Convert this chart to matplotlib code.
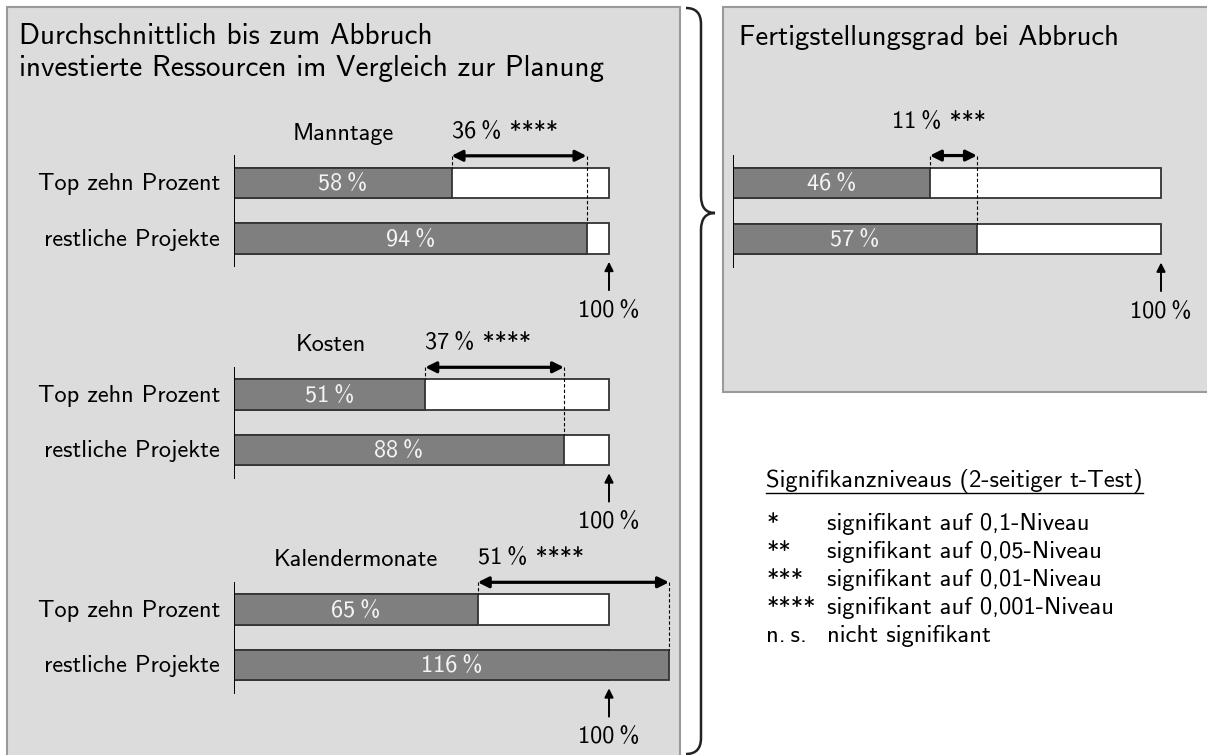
import numpy as np
import matplotlib
matplotlib.use("Agg")
import matplotlib.pyplot as plt
from matplotlib.patches import Rectangle, PathPatch
from matplotlib.path import Path
from matplotlib.lines import Line2D

plt.rcParams['font.family'] = ['cmss10', 'DejaVu Sans']
plt.rcParams['axes.unicode_minus'] = False

# Data
row_labels = ["Top zehn Prozent", "restliche Projekte"]
left_groups = ["Manntage", "Kosten", "Kalendermonate"]
top_vals = [58, 51, 65]
rest_vals = [94, 88, 116]
diff_vals = [36, 37, 51]
diff_sig = ["****", "****", "****"]

right_title = "Fertigstellungsgrad bei Abbruch"
right_top = 46
right_rest = 57
right_diff = 11
right_sig = "***"

sig_symbols = ["*", "**", "***", "****", "n.\u2009s."]
sig_texts = ["signifikant auf 0,1-Niveau", "signifikant auf 0,05-Niveau",
             "signifikant auf 0,01-Niveau", "signifikant auf 0,001-Niveau",
             "nicht signifikant"]

W, H = 1207, 755
BG = '#dcdcdc'
DARK = '#7f7f7f'
EDGE = '#333333'
FS = 17.5
TS = '\u2009'  # thin space before the percent sign

fig = plt.figure(figsize=(W / 100, H / 100), dpi=100)
fig.patch.set_facecolor('white')


def fx(x):
    return x / W


def fy(y):
    return 1 - y / H


# panels
fig.patches.append(Rectangle((fx(7), fy(770)), (680 - 7) / W, (770 - 7) / H,
                             transform=fig.transFigure, facecolor=BG,
                             edgecolor='#9a9a9a', lw=1.5, zorder=-2))
fig.patches.append(Rectangle((fx(723), fy(392)), (1220 - 723) / W, (392 - 7) / H,
                             transform=fig.transFigure, facecolor=BG,
                             edgecolor='#9a9a9a', lw=1.5, zorder=-2))

# curly brace
verts = [(686, 8), (701, 8), (701, 24), (701, 196), (701, 213), (715, 213),
         (701, 213), (701, 230), (701, 738), (701, 754), (686, 754)]
codes = [Path.MOVETO, Path.CURVE3, Path.CURVE3, Path.LINETO, Path.CURVE3, Path.CURVE3,
         Path.CURVE3, Path.CURVE3, Path.LINETO, Path.CURVE3, Path.CURVE3]
brace = Path([(fx(x), fy(y)) for x, y in verts], codes)
fig.patches.append(PathPatch(brace, transform=fig.transFigure, fill=False,
                             edgecolor='#222222', lw=1.8, zorder=-1))

# titles
fig.text(fx(19), fy(37), "Durchschnittlich bis zum Abbruch", fontsize=21, va='center')
fig.text(fx(19), fy(68), "investierte Ressourcen im Vergleich zur Planung", fontsize=21, va='center')
fig.text(fx(739), fy(37), right_title, fontsize=20.7, va='center')


def make_axes(x0, px100, xmax, yc, s, a=1.4, b=2.6):
    w = px100 * xmax / 100
    ytop = yc - a * s
    ybot = yc + b * s
    ax = fig.add_axes([fx(x0), fy(ybot), w / W, (ybot - ytop) / H])
    ax.set_xlim(0, xmax)
    ax.set_ylim(b, -a)
    ax.axis('off')
    ax.patch.set_alpha(0)
    return ax


def draw_group(ax, top, rest, diff, sig, text_x, text_y, text_ha,
               labels=None, title=None, title_x=None):
    bar_h = 0.55
    diff_y = -0.49
    vals = [top, rest]
    ax.barh([0, 1], [100, 100], height=bar_h, color='white', edgecolor=EDGE, lw=1.3, zorder=2)
    ax.barh([0, 1], vals, height=bar_h, color=DARK, edgecolor=EDGE, lw=1.3, zorder=3)
    ax.plot([0, 0], [-0.5, 1.52], color='black', lw=1.4, zorder=4, solid_capstyle='butt')
    for i, v in enumerate(vals):
        ax.text(v / 2, i + 0.02, f"{v}{TS}%", color='#f4f4f4', ha='center', va='center',
                fontsize=FS, zorder=5)
    # difference arrow
    ax.annotate('', xy=(rest, diff_y), xytext=(top, diff_y),
                arrowprops=dict(arrowstyle='<|-|>', lw=2.3, color='black',
                                shrinkA=0, shrinkB=0, mutation_scale=16), zorder=6)
    ax.plot([top, top], [diff_y, -bar_h / 2], color='black', lw=0.8, ls=(0, (3, 2)), zorder=6)
    ax.plot([rest, rest], [diff_y, 1 - bar_h / 2], color='black', lw=0.8, ls=(0, (3, 2)), zorder=6)
    ax.text(text_x, text_y, f"{diff}{TS}% {sig}", ha=text_ha, va='center', fontsize=FS)
    # 100 % marker
    ax.annotate('', xy=(100, 1.42), xytext=(100, 1.93),
                arrowprops=dict(arrowstyle='-|>', lw=1.4, color='black',
                                shrinkA=0, shrinkB=0, mutation_scale=13))
    ax.text(100, 2.3, f"100{TS}%", ha='center', va='center', fontsize=FS)
    if labels:
        for i, lab in enumerate(labels):
            ax.text(-3.7, i + 0.02, lab, ha='right', va='center', fontsize=FS)
    if title:
        ax.text(title_x, -0.89, title, ha='center', va='center', fontsize=FS)


group_yc = [183, 394.5, 609.5]
title_xs = [29.1, 25.9, 32.5]
for k, g in enumerate(left_groups):
    ax = make_axes(234, 375, 122, group_yc[k], 55.5)
    draw_group(ax, top_vals[k], rest_vals[k], diff_vals[k], diff_sig[k],
               top_vals[k], -0.92, 'left',
               labels=row_labels, title=g, title_x=title_xs[k])

axr = make_axes(733, 428, 112, 183, 56)
draw_group(axr, right_top, right_rest, right_diff, right_sig, 48.1, -1.09, 'center')

# significance legend
leg_title = fig.text(fx(766), fy(481), "Signifikanzniveaus (2-seitiger t-Test)",
                     fontsize=17.7, va='center')
row_y = [524, 552, 580, 608, 636]
for sym, txt, y in zip(sig_symbols, sig_texts, row_y):
    fig.text(fx(766), fy(y), sym, fontsize=17.7, va='center')
    fig.text(fx(827), fy(y), txt, fontsize=17.7, va='center')

fig.canvas.draw()
bb = leg_title.get_window_extent(fig.canvas.get_renderer())
fig.lines.append(Line2D([fx(bb.x0), fx(bb.x1)], [fy(493), fy(493)],
                        transform=fig.transFigure, color='black', lw=1.0))

fig.savefig('out.png', dpi=100)
